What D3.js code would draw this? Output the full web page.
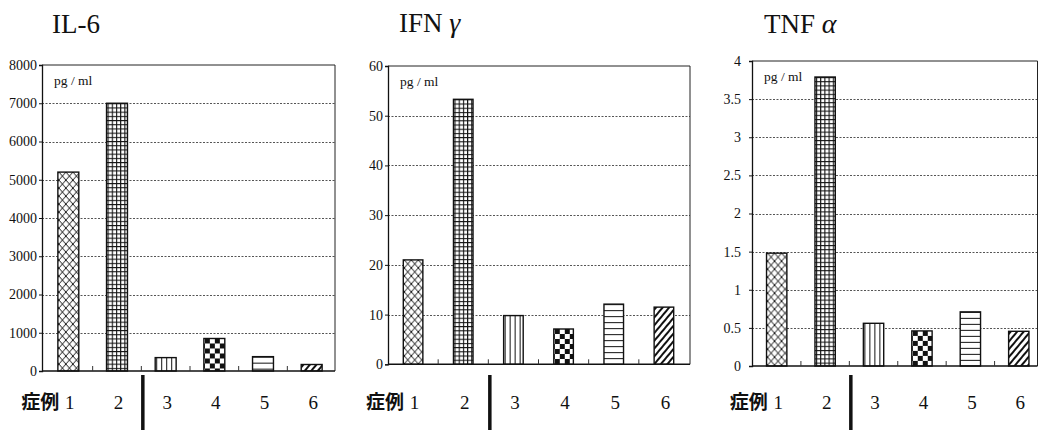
<!DOCTYPE html>
<html>
<head>
<meta charset="utf-8">
<script src="https://cdn.jsdelivr.net/npm/d3@7"></script>
<style>
  html, body { margin: 0; padding: 0; background: #fff; }
  svg { display: block; }
</style>
</head>
<body>
<svg id="chart" width="1039" height="430"></svg>
<script>
// Cytokine levels per case (pg/ml)
const cases = ["1", "2", "3", "4", "5", "6"];
const il6Values = [5200, 7000, 350, 850, 375, 170];
const ifnValues = [21, 53.3, 9.8, 7.1, 12.1, 11.5];
const tnfValues = [1.48, 3.79, 0.56, 0.46, 0.71, 0.455];

const il6Ticks = [0, 1000, 2000, 3000, 4000, 5000, 6000, 7000, 8000];
const ifnTicks = [0, 10, 20, 30, 40, 50, 60];
const tnfTicks = [0, 0.5, 1, 1.5, 2, 2.5, 3, 3.5, 4];

const caseLabel = "症例";
const unitLabel = "pg / ml";

// fill pattern for each case
const fills = ["cross", "grid", "vline", "checker", "hline", "diag"];

const panels = [
  { name: "il6", title: "IL-6", greek: null, values: il6Values, ticks: il6Ticks,
    frame: { left: 42, right: 335, top: 65, bottom: 371 },
    band: [44, 336], pad: 0.57, labelGap: 2, titleX: 52, titleY: 33 },
  { name: "ifn", title: "IFN ", greek: "γ", values: ifnValues, ticks: ifnTicks,
    frame: { left: 388, right: 690, top: 66, bottom: 364.3 },
    band: [388, 689], pad: 0.61, labelGap: 2, titleX: 399, titleY: 32 },
  { name: "tnf", title: "TNF ", greek: "α", values: tnfValues, ticks: tnfTicks,
    frame: { left: 752, right: 1037.5, top: 61, bottom: 366 },
    band: [752.5, 1043], pad: 0.58, labelGap: 8, titleX: 764, titleY: 33 }
];

const svg = d3.select("#chart");
const defs = svg.append("defs");
const serif = "'Liberation Serif', 'DejaVu Serif', serif";
const gothic = "'Noto Sans CJK JP', 'Noto Sans', sans-serif";

function makePattern(id, kind, x0, y0) {
  let p;
  if (kind === "cross") {
    p = defs.append("pattern").attr("id", id).attr("patternUnits", "userSpaceOnUse")
      .attr("width", 7).attr("height", 8)
      .attr("patternTransform", `translate(${x0},${y0})`);
    p.append("rect").attr("width", 7).attr("height", 8).attr("fill", "#fff");
    p.append("path").attr("d", "M0,0L7,8M7,0L0,8")
      .attr("stroke", "#111").attr("stroke-width", 1).attr("fill", "none");
  } else if (kind === "grid") {
    p = defs.append("pattern").attr("id", id).attr("patternUnits", "userSpaceOnUse")
      .attr("width", 4.2).attr("height", 4.2)
      .attr("patternTransform", `translate(${x0},${y0})`);
    p.append("rect").attr("width", 4.2).attr("height", 4.2).attr("fill", "#fff");
    p.append("path").attr("d", "M0,0.5H4.2M0.5,0V4.2")
      .attr("stroke", "#111").attr("stroke-width", 1.2).attr("fill", "none");
  } else if (kind === "vline") {
    p = defs.append("pattern").attr("id", id).attr("patternUnits", "userSpaceOnUse")
      .attr("width", 5).attr("height", 5)
      .attr("patternTransform", `translate(${x0},${y0})`);
    p.append("rect").attr("width", 5).attr("height", 5).attr("fill", "#fff");
    p.append("path").attr("d", "M0.5,0V5").attr("stroke", "#111").attr("stroke-width", 1);
  } else if (kind === "checker") {
    p = defs.append("pattern").attr("id", id).attr("patternUnits", "userSpaceOnUse")
      .attr("width", 10).attr("height", 10)
      .attr("patternTransform", `translate(${x0},${y0})`);
    p.append("rect").attr("width", 10).attr("height", 10).attr("fill", "#fff");
    p.append("rect").attr("width", 5).attr("height", 5).attr("fill", "#111");
    p.append("rect").attr("x", 5).attr("y", 5).attr("width", 5).attr("height", 5).attr("fill", "#111");
  } else if (kind === "hline") {
    p = defs.append("pattern").attr("id", id).attr("patternUnits", "userSpaceOnUse")
      .attr("width", 6).attr("height", 6)
      .attr("patternTransform", `translate(${x0},${y0})`);
    p.append("rect").attr("width", 6).attr("height", 6).attr("fill", "#fff");
    p.append("path").attr("d", "M0,0.5H6").attr("stroke", "#111").attr("stroke-width", 1);
  } else if (kind === "diag") {
    p = defs.append("pattern").attr("id", id).attr("patternUnits", "userSpaceOnUse")
      .attr("width", 5).attr("height", 5)
      .attr("patternTransform", `translate(${x0},${y0}) rotate(40)`);
    p.append("rect").attr("width", 5).attr("height", 5).attr("fill", "#fff");
    p.append("path").attr("d", "M1,0V5").attr("stroke", "#111").attr("stroke-width", 2);
  }
}

panels.forEach(panel => {
  const f = panel.frame;
  const g = svg.append("g");

  const x = d3.scaleBand().domain(cases).range(panel.band)
    .paddingInner(panel.pad).paddingOuter(panel.pad / 2);
  const y = d3.scaleLinear().domain([0, d3.max(panel.ticks)]).range([f.bottom, f.top]);
  const step = x.step();

  // title
  const t = g.append("text").attr("x", panel.titleX).attr("y", panel.titleY)
    .attr("font-family", serif).attr("font-size", 27).attr("fill", "#111")
    .text(panel.title);
  if (panel.greek) {
    t.append("tspan").attr("font-style", "italic").attr("font-size", 28).text(panel.greek);
  }

  // dotted gridlines
  g.selectAll("line.grid")
    .data(panel.ticks.filter(d => d > 0 && d < d3.max(panel.ticks)))
    .join("line").attr("class", "grid")
    .attr("x1", f.left).attr("x2", f.right)
    .attr("y1", d => Math.round(y(d)) + 0.5).attr("y2", d => Math.round(y(d)) + 0.5)
    .attr("stroke", "#555").attr("stroke-width", 1).attr("stroke-dasharray", "2,1.5");

  // frame (top and right)
  g.append("path")
    .attr("d", `M${f.left},${f.top}H${f.right}V${f.bottom}`)
    .attr("fill", "none").attr("stroke", "#222").attr("stroke-width", 1);

  // bars
  panel.values.forEach((v, i) => {
    const id = `fill-${panel.name}-${i}`;
    makePattern(id, fills[i], x(cases[i]) + 1, y(v));
  });
  g.selectAll("rect.bar").data(panel.values).join("rect").attr("class", "bar")
    .attr("x", (d, i) => x(cases[i]))
    .attr("y", d => y(d))
    .attr("width", x.bandwidth())
    .attr("height", d => f.bottom - y(d))
    .attr("fill", (d, i) => `url(#fill-${panel.name}-${i})`)
    .attr("stroke", "#111").attr("stroke-width", 1.4);

  // y axis
  const yAxis = d3.axisLeft(y).tickValues(panel.ticks).tickSize(3)
    .tickPadding(panel.labelGap).tickFormat(d => String(d));
  const ya = g.append("g").attr("transform", `translate(${f.left},0)`).call(yAxis);
  ya.select(".domain").attr("stroke", "#111").attr("stroke-width", 1.3);
  ya.selectAll(".tick line").attr("stroke", "#111");
  ya.selectAll(".tick text").attr("font-family", serif).attr("font-size", 14).attr("fill", "#111");

  // x axis baseline with inner ticks at band boundaries
  g.append("line").attr("x1", f.left).attr("x2", f.right)
    .attr("y1", f.bottom).attr("y2", f.bottom)
    .attr("stroke", "#111").attr("stroke-width", 1.5);
  g.selectAll("line.xtick").data(cases.slice(1)).join("line").attr("class", "xtick")
    .attr("x1", d => x(d) - step * panel.pad / 2).attr("x2", d => x(d) - step * panel.pad / 2)
    .attr("y1", f.bottom).attr("y2", f.bottom - 5)
    .attr("stroke", "#333").attr("stroke-width", 1);

  // case labels
  g.selectAll("text.case").data(cases).join("text").attr("class", "case")
    .attr("x", d => x(d) + x.bandwidth() / 2 + 1.5).attr("y", 409)
    .attr("text-anchor", "middle")
    .attr("font-family", serif).attr("font-size", 19).attr("fill", "#111")
    .text(d => d);
  g.append("text")
    .attr("x", x(cases[0]) + x.bandwidth() / 2 - 9).attr("y", 409)
    .attr("text-anchor", "end")
    .attr("font-family", gothic).attr("font-weight", "bold").attr("font-size", 19)
    .attr("fill", "#111").text(caseLabel);

  // divider between cases 2 and 3
  const divX = x(cases[2]) - step * panel.pad / 2 + 1.5;
  g.append("line").attr("x1", divX).attr("x2", divX).attr("y1", 375).attr("y2", 430)
    .attr("stroke", "#111").attr("stroke-width", 3.5);

  // unit label
  g.append("text").attr("x", f.left + 12).attr("y", f.top + 20)
    .attr("font-family", serif).attr("font-size", 13.5).attr("fill", "#111")
    .text(unitLabel);
});
</script>
</body>
</html>
